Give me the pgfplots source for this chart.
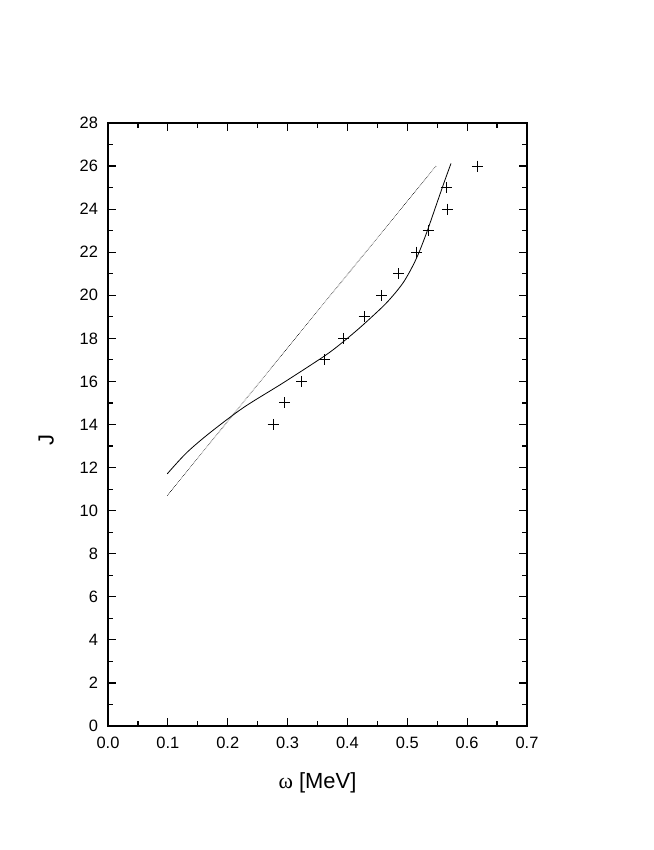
\documentclass[border=0pt]{standalone}
\usepackage{pgfplots}
\pgfplotsset{compat=1.18}
\usepackage{fontspec}
\setmainfont{Liberation Sans}
\newfontfamily\symfont{Liberation Serif}
\begin{document}
\begin{tikzpicture}[x=1bp,y=1bp]
\path[use as bounding box] (0,0) rectangle (654,850);
\begin{axis}[
  at={(108bp,124bp)}, anchor=south west,
  scale only axis, width=419bp, height=603bp,
  xmin=0, xmax=0.7, ymin=0, ymax=28,
  xtick={0,0.1,...,0.7}, ytick={0,2,...,28},
  minor x tick num=1, minor y tick num=1,
  xticklabel style={/pgf/number format/fixed,/pgf/number format/fixed zerofill,/pgf/number format/precision=1},
  /pgf/number format/assume math mode=true,
  tick align=inside, tick pos=both,
  major tick length=8bp, minor tick length=5bp,
  every tick/.style={black, line width=1.2bp},
  axis line style={line width=1.6bp},
  ticklabel style={font=\fontsize{16.5}{20}\selectfont},
  xticklabel style={yshift=-7.5bp},
  yticklabel style={xshift=-6.5bp},
  xlabel={{\symfont ω} [MeV]}, ylabel={J},
  label style={font=\fontsize{22}{26}\selectfont},
  xlabel style={yshift=-17bp},
  ylabel style={at={(ticklabel cs:0.474)}, yshift=19bp},
]
\addplot[black, line width=0.8bp, smooth] coordinates {
(0.099,11.71) (0.131,12.68) (0.170,13.61) (0.226,14.78) (0.293,15.94)
(0.360,17.15) (0.3876,17.72) (0.421,18.50) (0.4544,19.35) (0.468,19.73)
(0.4823,20.19) (0.494,20.62) (0.5045,21.12) (0.513,21.58) (0.5212,22.10)
(0.5334,22.99) (0.549,24.24) (0.5615,25.24) (0.573,26.12)};
\addplot[black, line width=0.6bp, densely dotted] coordinates {
(0.099,10.70) (0.312,17.97) (0.548,26.0)};
\addplot[only marks, mark=+, mark size=5.5bp, black, line width=1bp] coordinates {
(0.276,14) (0.295,15) (0.324,16) (0.361,17) (0.394,18) (0.428,19) (0.457,20)
(0.486,21) (0.516,22) (0.535,23) (0.567,24) (0.565,25) (0.617,26)};
\end{axis}
\end{tikzpicture}
\end{document}
